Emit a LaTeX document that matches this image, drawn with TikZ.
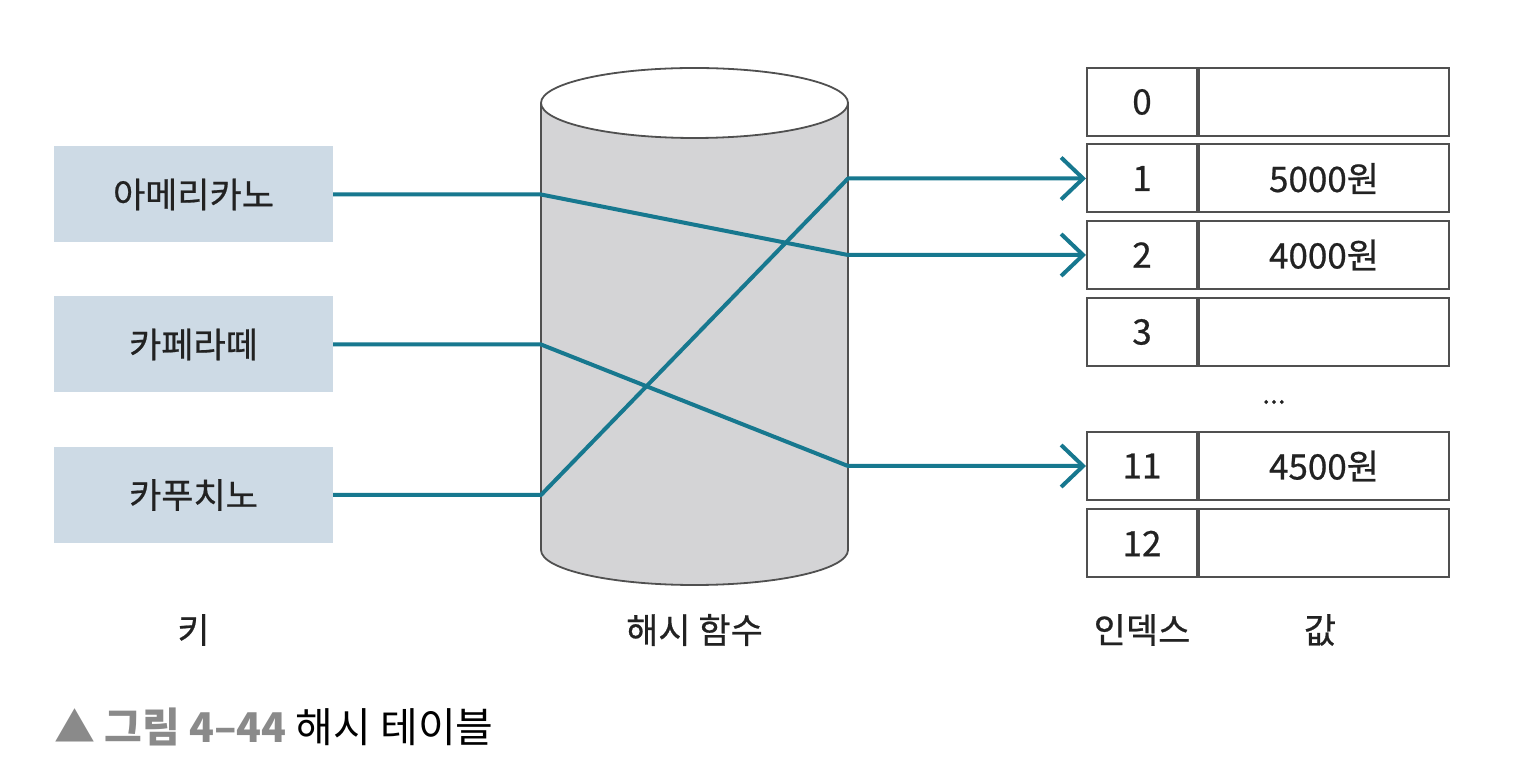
\documentclass[tikz,border=0pt]{standalone}
\usepackage{fontspec}
\setmainfont{Noto Sans CJK KR}[FakeBold=0.6]
\newfontfamily\capfont{Noto Sans CJK KR}
\usepackage{tikz}
\usetikzlibrary{arrows.meta,positioning}
\definecolor{hashInk}{HTML}{222222}
\definecolor{hashKey}{HTML}{CDDAE5}
\definecolor{hashTeal}{HTML}{17788F}
\definecolor{hashDrum}{HTML}{D4D4D6}
\definecolor{hashLine}{HTML}{505050}
\definecolor{hashGray}{HTML}{8A8A8A}
\tikzset{
  every picture/.style={font=\fontsize{35}{40}\selectfont, text=hashInk},
  hash key/.style={fill=hashKey, minimum width=279pt, minimum height=96pt,
    inner sep=0pt},
  hash idx/.style={draw=hashLine, line width=2pt, fill=white,
    minimum width=110pt, minimum height=68pt, inner sep=0pt},
  hash val/.style={draw=hashLine, line width=2pt, fill=white,
    minimum width=250pt, minimum height=68pt, inner sep=0pt},
  hash arrow/.style={-{Straight Barb[length=22pt,width=42pt,line width=4pt]},
    draw=hashTeal, line width=4pt, line join=round},
  hash label/.style={inner sep=0pt}
}

\begin{document}
\begin{tikzpicture}[x=1pt,y=1pt]
  \useasboundingbox (0,0) rectangle (1520,774);
  % keys
  \node[hash key] (key1) at (193.5,579.5) {아메리카노};
  \node[hash key] (key2) at (193.5,429.5) {카페라떼};
  \node[hash key] (key3) at (193.5,279) {카푸치노};
  % hash function drum
  \coordinate (drumL) at (541,671);
  \coordinate (drumR) at (848,671);
  \filldraw[fill=hashDrum, draw=hashLine, line width=1.8pt]
    (541,671) -- (541,224) arc[start angle=180, end angle=360,
    x radius=153.5, y radius=35] -- (848,671);
  \filldraw[fill=white, draw=hashLine, line width=1.8pt]
    (694.5,671) ellipse[x radius=153.5, y radius=35];
  % table
  \foreach \i/\y/\v in {0/672/, 1/595.5/5000원, 2/519/4000원,
                        3/442/, 11/308/4500원, 12/230.5/} {
    \node[hash idx] (row\i) at (1142,\y) {\i};
    \node[hash val, right=0pt of row\i] (val\i) {\v};
  }
  \node[hash label, font=\fontsize{28}{30}\selectfont] (dots) at (1274,372) {...};
  % connectors
  \draw[hash arrow] (key1.east) -- (key1.east -| drumL) -- (row2.west -| drumR) -- (row2.west);
  \draw[hash arrow] (key2.east) -- (key2.east -| drumL) -- (row11.west -| drumR) -- (row11.west);
  \draw[hash arrow] (key3.east) -- (key3.east -| drumL) -- (row1.west -| drumR) -- (row1.west);
  % captions
  \node[hash label] (keyname) at (193.5,144) {키};
  \node[hash label] (drumname) at (694.5,144) {해시 함수};
  \node[hash label] (idxname) at (1142,144) {인덱스};
  \node[hash label] (valname) at (1320,144) {값};
  \node[hash label, anchor=west, font=\capfont\fontsize{41}{46}\selectfont, text=black]
    (caption) at (54,47) {\textcolor{hashGray}{▲ \textbf{그림 4–44}} 해시 테이블};
\end{tikzpicture}
\end{document}
